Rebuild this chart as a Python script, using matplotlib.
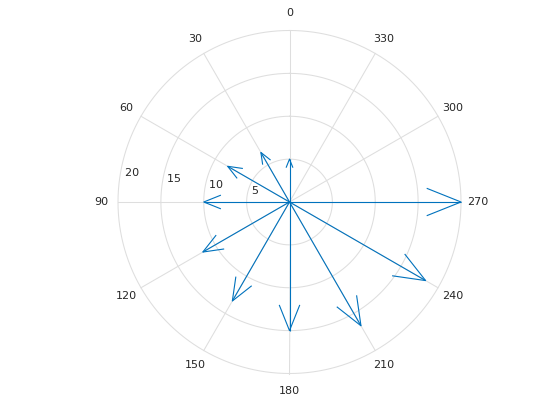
import numpy as np
import matplotlib
matplotlib.use("Agg")
import matplotlib.pyplot as plt

# Data: compass vectors (direction in degrees, magnitude)
angles_deg = [0, 30, 60, 90, 120, 150, 180, 210, 240, 270]
magnitudes = [5.0, 6.67, 8.33, 10.0, 11.67, 13.33, 15.0, 16.67, 18.33, 20.0]
theta_labels = ["0", "30", "60", "90", "120", "150", "180", "210", "240", "270", "300", "330"]
theta_label_angles = [0, 30, 60, 90, 120, 150, 180, 210, 240, 270, 300, 330]
r_ticks = [5, 10, 15, 20]

W, H = 560, 420
fig = plt.figure(figsize=(W / 100, H / 100), dpi=100)
fig.patch.set_facecolor("white")

cx, cy, R = 289.5, 202.0, 171.5
rect = [(cx - R) / W, (H - cy - R) / H, 2 * R / W, 2 * R / H]
ax = fig.add_axes(rect, projection="polar")
ax.set_theta_zero_location("N")
ax.set_theta_direction(1)
rmax = r_ticks[-1]
ax.set_ylim(0, rmax)
ax.set_xticks([])
ax.set_yticks([])
ax.grid(False)
ax.spines["polar"].set_visible(False)
ax.set_facecolor("white")

grid_color = "#dedede"
tt = np.linspace(0, 2 * np.pi, 721)
for r in r_ticks:
    ax.plot(tt, np.full_like(tt, r), color=grid_color, lw=0.75, zorder=1, clip_on=False)
for a in theta_label_angles:
    ax.plot([np.deg2rad(a), np.deg2rad(a)], [0, rmax], color=grid_color, lw=0.75, zorder=1, clip_on=False)

for a, lab in zip(theta_label_angles, theta_labels):
    ax.text(np.deg2rad(a), rmax * 1.1, lab, ha="center", va="center", fontsize=8,
            color="#262626", clip_on=False)

for r in r_ticks:
    ax.text(np.deg2rad(82), r + rmax / 4 / 20, "  " + str(r), ha="left", va="bottom",
            fontsize=8, color="#262626", clip_on=False)

# Cartesian overlay for straight arrow segments (0 deg at top, counterclockwise)
ax2 = fig.add_axes(rect)
ax2.set_xlim(-rmax, rmax)
ax2.set_ylim(-rmax, rmax)
ax2.axis("off")
ax2.patch.set_alpha(0)

color = "#0072BD"
for a, m in zip(angles_deg, magnitudes):
    z = m * np.exp(1j * np.deg2rad(a + 90))
    shaft = np.array([0, 1]) * z
    head = np.array([0.8 + 0.08j, 1, 0.8 - 0.08j]) * z
    ax2.plot(shaft.real, shaft.imag, color=color, lw=0.8, zorder=3, clip_on=False,
             solid_capstyle="butt")
    ax2.plot(head.real, head.imag, color=color, lw=0.8, zorder=3, clip_on=False,
             solid_joinstyle="round", solid_capstyle="butt")

fig.savefig("out.png", dpi=100, facecolor="white")
